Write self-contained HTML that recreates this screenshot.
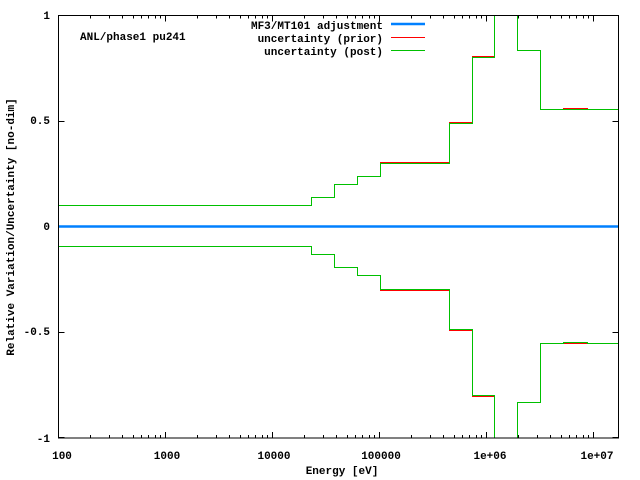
<!DOCTYPE html>
<html><head><style>
html,body{margin:0;padding:0;background:#fff;}
svg{display:block;}
text{font-family:"Liberation Mono",monospace;font-weight:bold;font-size:11px;fill:#000;}
</style></head><body>
<svg width="640" height="480" viewBox="0 0 640 480" xmlns="http://www.w3.org/2000/svg">
<g id="ticks" stroke="#000" stroke-width="1" shape-rendering="crispEdges"></g>
<line x1="59" y1="226.5" x2="619" y2="226.5" stroke="#0080ff" stroke-width="2.5"/>
<g fill="none" stroke="#ff0000" stroke-width="1" shape-rendering="crispEdges">
<polyline points="59,205.5 311.5,205.5 311.5,197.5 334.5,197.5 334.5,184.5 357.5,184.5 357.5,176.5 380.5,176.5 380.5,162.5 449.5,162.5 449.5,122.5 472.5,122.5 472.5,56.5 494.5,56.5 494.5,15"/>
<polyline points="517.5,15 517.5,50.5 540.5,50.5 540.5,109.5 563.5,109.5 563.5,108.5 587.5,108.5 587.5,109.5 619,109.5"/>
<polyline points="59,246.5 311.5,246.5 311.5,254.5 334.5,254.5 334.5,267.5 357.5,267.5 357.5,275.5 380.5,275.5 380.5,290.5 449.5,290.5 449.5,330.5 472.5,330.5 472.5,396.5 494.5,396.5 494.5,438"/>
<polyline points="517.5,438 517.5,402.5 540.5,402.5 540.5,343.5 563.5,343.5 563.5,343.5 587.5,343.5 587.5,343.5 619,343.5"/>
</g>
<g fill="none" stroke="#00c000" stroke-width="1" shape-rendering="crispEdges">
<polyline points="59,205.5 311.5,205.5 311.5,197.5 334.5,197.5 334.5,184.5 357.5,184.5 357.5,176.5 380.5,176.5 380.5,163.5 449.5,163.5 449.5,123.5 472.5,123.5 472.5,57.5 494.5,57.5 494.5,15"/>
<polyline points="517.5,15 517.5,50.5 540.5,50.5 540.5,109.5 563.5,109.5 563.5,109.5 587.5,109.5 587.5,109.5 619,109.5"/>
<polyline points="59,246.5 311.5,246.5 311.5,254.5 334.5,254.5 334.5,267.5 357.5,267.5 357.5,275.5 380.5,275.5 380.5,289.5 449.5,289.5 449.5,329.5 472.5,329.5 472.5,395.5 494.5,395.5 494.5,438"/>
<polyline points="517.5,438 517.5,402.5 540.5,402.5 540.5,343.5 563.5,343.5 563.5,342.5 587.5,342.5 587.5,343.5 619,343.5"/>
</g>
<rect x="58.5" y="15.5" width="560" height="422.5" fill="none" stroke="#000" stroke-width="1" shape-rendering="crispEdges"/>
<text x="50" y="19" text-anchor="end">1</text>
<text x="50" y="124" text-anchor="end">0.5</text>
<text x="50" y="230" text-anchor="end">0</text>
<text x="50" y="335" text-anchor="end">-0.5</text>
<text x="50" y="442" text-anchor="end">-1</text>
<text x="62" y="459" text-anchor="middle">100</text>
<text x="167" y="459" text-anchor="middle">1000</text>
<text x="274" y="459" text-anchor="middle">10000</text>
<text x="381" y="459" text-anchor="middle">100000</text>
<text x="490" y="459" text-anchor="middle">1e+06</text>
<text x="597" y="459" text-anchor="middle">1e+07</text>
<text x="342" y="474" text-anchor="middle">Energy [eV]</text>
<text transform="translate(14,227) rotate(-90)" text-anchor="middle">Relative Variation/Uncertainty [no-dim]</text>
<text x="80" y="40">ANL/phase1 pu241</text>
<text x="383" y="29" text-anchor="end">MF3/MT101 adjustment</text>
<text x="383" y="42" text-anchor="end">uncertainty (prior)</text>
<text x="383" y="55" text-anchor="end">uncertainty (post)</text>
<line x1="391" y1="24" x2="425" y2="24" stroke="#0080ff" stroke-width="2.5"/>
<line x1="391" y1="37.5" x2="425" y2="37.5" stroke="#ff0000" stroke-width="1" shape-rendering="crispEdges"/>
<line x1="391" y1="50.5" x2="425" y2="50.5" stroke="#00c000" stroke-width="1" shape-rendering="crispEdges"/>
</svg>
<script>
(function(){
var g=document.getElementById('ticks'),s='';
function L(a,b,c,d){s+='<line x1="'+a+'" y1="'+b+'" x2="'+c+'" y2="'+d+'"/>';}
for(var k=0;k<6;k++){var x0=58.5+107*k;
 for(var m=1;m<10;m++){var x=Math.round(x0+107*Math.log10(m)-0.5)+0.5;if(x>618.5)break;var t=(m==1)?6:3;
  L(x,438,x,438-t);L(x,15.5,x,15.5+t);}}
for(var i=0;i<5;i++){var y=Math.round(15.5+i*105.6-0.5)+0.5;L(58.5,y,64.5,y);L(618.5,y,612.5,y);}
g.innerHTML=s;
})();
</script>
</body></html>
